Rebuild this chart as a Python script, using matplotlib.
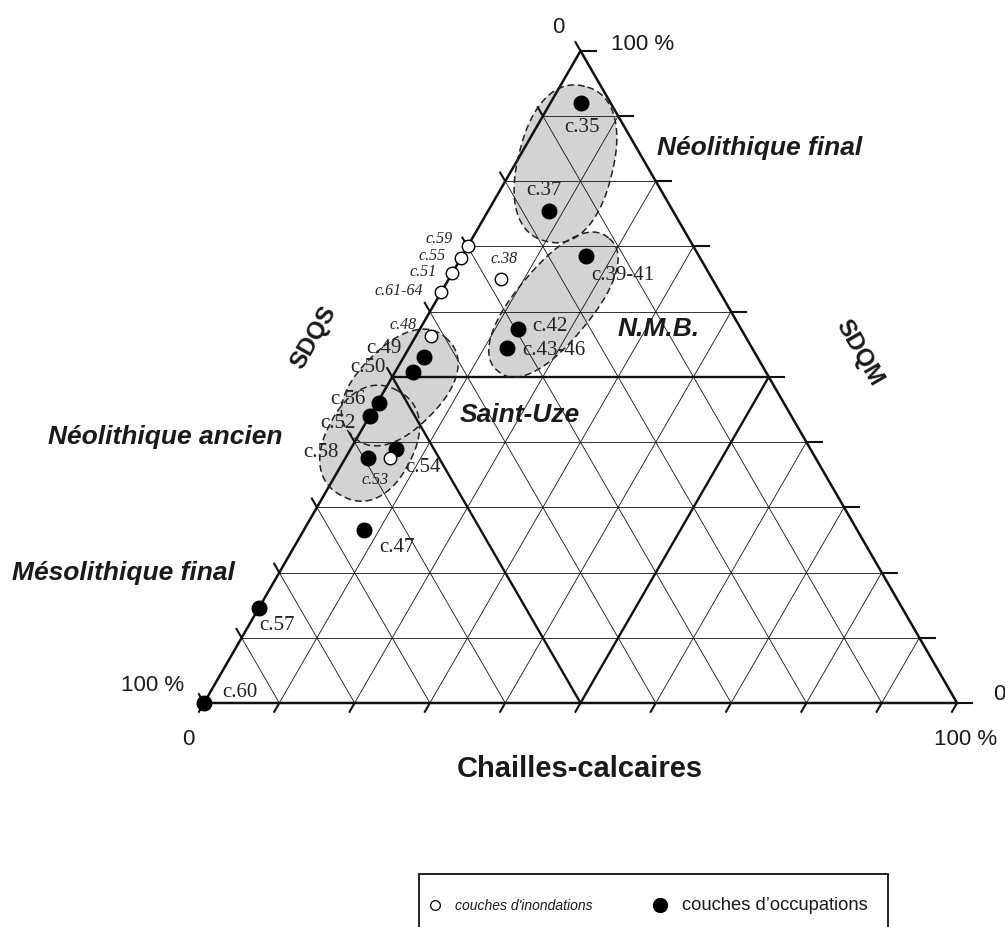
import numpy as np
import matplotlib
matplotlib.use('Agg')
import matplotlib.pyplot as plt
from matplotlib.patches import Rectangle

plt.rcParams['font.family'] = 'Liberation Sans'

# couches d'occupations (points noirs) : % chailles-calcaires et % SDQM (SDQS = reste)
occ_labels = ['c.35', 'c.37', 'c.39-41', 'c.42', 'c.43-46', 'c.49', 'c.50',
              'c.56', 'c.52', 'c.58', 'c.54', 'c.47', 'c.57', 'c.60']
occ_chailles = [4, 8, 16.5, 13, 13, 2.7, 2.4, 0.3, 0, 3, 6, 8, 0, 0]
occ_sdqm = [92, 75.5, 68.5, 57.3, 54.5, 53, 50.7, 46, 44, 37.5, 39, 26.5, 14.5, 0]

# couches d'inondations (points blancs)
inond_labels = ['c.59', 'c.55', 'c.51', 'c.61-64', 'c.38', 'c.48', 'c.53']
inond_chailles = [0, 0, 0, 0, 7, 2, 6]
inond_sdqm = [70, 68.2, 66, 63, 65, 56.3, 37.5]

group_names = ['Néolithique final', 'N.M.B.', 'Saint-Uze',
               'Néolithique ancien', 'Mésolithique final']
tick_steps = list(range(0, 101, 10))

R3 = np.sqrt(3) / 2


def tern(c, m):
    c = np.asarray(c, dtype=float)
    m = np.asarray(m, dtype=float)
    return c + m / 2, m * R3


def blob(cx, cy, w, h, ang, n=2.3):
    # contour arrondi (superellipse) tourne de ang degres
    t = np.linspace(0, 2 * np.pi, 241)
    ct, st = np.cos(t), np.sin(t)
    u = w / 2 * np.sign(ct) * np.abs(ct) ** (2 / n)
    v = h / 2 * np.sign(st) * np.abs(st) ** (2 / n)
    a = np.radians(ang)
    return cx + u * np.cos(a) - v * np.sin(a), cy + u * np.sin(a) + v * np.cos(a)


fig = plt.figure(figsize=(10.05, 9.28), dpi=100)
ax = fig.add_axes([0, 0, 1, 1])
ax.set_xlim(-27.09, 106.37)
ax.set_ylim(-29.75, 93.49)
ax.axis('off')

# zones grisees (centre, largeur, hauteur, angle)
zones = [((48.0, 71.6), 21.2, 12.6, 76),
         ((46.4, 52.9), 23.0, 10.0, 50.3),
         ((26.0, 41.9), 18.0, 11.0, 45),
         ((22.0, 34.5), 15.8, 11.7, 62)]
shapes = [blob(cx, cy, w, h, a) for (cx, cy), w, h, a in zones]
for x, y in shapes:
    ax.fill(x, y, color='#d2d3d5', lw=0, zorder=1)
for x, y in shapes:
    ax.plot(x, y, color='#222222', lw=1.1, ls=(0, (4.5, 2.5)), zorder=3)

# grille
for k in range(10, 100, 10):
    lw = 1.7 if k == 50 else 0.6
    for (c0, m0), (c1, m1) in [((0, k), (100 - k, k)),
                               ((k, 0), (k, 100 - k)),
                               ((100 - k, 0), (0, 100 - k))]:
        x, y = tern([c0, c1], [m0, m1])
        ax.plot(x, y, color='#111111', lw=lw, zorder=2)

x, y = tern([0, 100, 0, 0], [0, 0, 100, 0])
ax.plot(x, y, color='#111111', lw=1.8, zorder=2, solid_joinstyle='miter')

# graduations
L = 1.35
for k in tick_steps:
    x0, y0 = tern(k, 0)
    ax.plot([x0, x0 - 0.5 * L], [y0, y0 - R3 * L], color='#111111', lw=1.5)
    x0, y0 = tern(0, k)
    ax.plot([x0, x0 - 0.5 * L], [y0, y0 + R3 * L], color='#111111', lw=1.5)
    x0, y0 = tern(100 - k, k)
    ax.plot([x0, x0 + 1.5 * L], [y0, y0], color='#111111', lw=1.5)

# points
xo, yo = tern(occ_chailles, occ_sdqm)
ax.plot(xo, yo, 'o', ms=10.5, color='black', zorder=5, clip_on=False)
xi, yi = tern(inond_chailles, inond_sdqm)
ax.plot(xi, yi, 'o', ms=9, mfc='white', mec='black', mew=1.0, zorder=5)

occ_off = [(1, -23), (-5, 21), (37, -18), (32, 4), (47, -2), (-40, 10), (-45, 6),
           (-32, 5), (-32, -6), (-47, 7), (27, -18), (33, -16), (18, -16), (36, 11)]
inond_off = [(-28, 8), (-29, 3), (-29, 2), (-42, 2), (3, 21), (-28, 12), (-15, -21)]

for lab, px, py, off in zip(occ_labels, xo, yo, occ_off):
    ax.annotate(lab, (px, py), xytext=off, textcoords='offset pixels',
                ha='center', va='center', fontsize=15, family='Liberation Serif',
                color='#222222', zorder=6)
for lab, px, py, off in zip(inond_labels, xi, yi, inond_off):
    ax.annotate(lab, (px, py), xytext=off, textcoords='offset pixels',
                ha='center', va='center', fontsize=11.5, family='Liberation Serif',
                style='italic', color='#222222', zorder=6)

# noms des groupes
group_pos = [(73.8, 73.8), (60.4, 49.8), (41.9, 38.4), (-5.1, 35.5), (-10.7, 17.4)]
for name, (gx, gy) in zip(group_names, group_pos):
    ax.text(gx, gy, name, ha='center', va='center', fontsize=19,
            fontweight='bold', style='italic', color='#1a1a1a', zorder=6)

# axes
ax.text(49.9, -8.6, 'Chailles-calcaires', ha='center', va='center',
        fontsize=21, fontweight='bold', color='#1a1a1a')
ax.text(14.55, 48.65, 'SDQS', ha='center', va='center', rotation=60,
        fontsize=17.5, fontweight='bold', color='#1a1a1a')
ax.text(87.0, 46.6, 'SDQM', ha='center', va='center', rotation=-60,
        fontsize=17.5, fontweight='bold', color='#1a1a1a')

tick_txt = [(47.1, 89.8, '0'), (58.2, 87.6, '100 %'), (-6.8, 2.5, '100 %'),
            (-2.1, -4.7, '0'), (105.6, 1.2, '0'), (101.1, -4.7, '100 %')]
for tx, ty, s in tick_txt:
    ax.text(tx, ty, s, ha='center', va='center', fontsize=16, color='#1a1a1a')

# legende
ax.add_patch(Rectangle((28.55, -32), 62.3, 9.3, facecolor='none',
                       edgecolor='#111111', lw=1.3, clip_on=False))
ax.plot([30.7], [-26.8], 'o', ms=7, mfc='white', mec='black', mew=0.9)
ax.text(33.3, -26.8, "couches d'inondations", ha='left', va='center',
        fontsize=10, style='italic', color='#1a1a1a')
ax.plot([60.6], [-26.8], 'o', ms=10, color='black')
ax.text(63.5, -26.8, 'couches d\u2019occupations', ha='left', va='center',
        fontsize=13.2, color='#1a1a1a')

fig.savefig('out.png', dpi=100)
